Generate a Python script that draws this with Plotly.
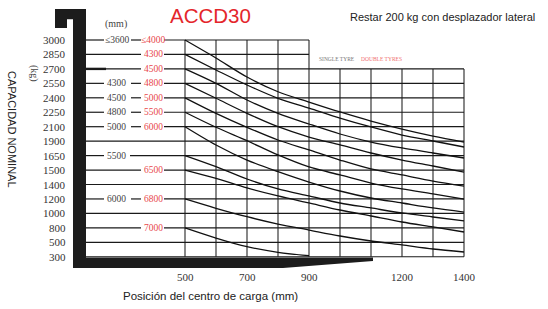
import plotly.graph_objects as go
import numpy as np

# ---------------- data ----------------
capacity_ticks = [3000, 2850, 2700, 2550, 2400, 2250, 2100, 1900, 1650, 1500, 1400, 1200, 1000, 800, 500, 300]
x_tick_labels = [500, 700, 900, 1200, 1400]
grid_x = [500, 600, 700, 800, 900, 1000, 1100, 1200, 1300, 1400]
load_center = [500, 600, 700, 800, 900, 1000, 1100, 1200, 1300, 1400]

# mast heights (mm): single tyre (black) / double tyres (red), by capacity row
single_rows = [3000, 2550, 2400, 2250, 2100, 1650, 1200]
single_text = ["≤3600", "4300", "4500", "4800", "5000", "5500", "6000"]
double_rows = [3000, 2850, 2700, 2550, 2400, 2250, 2100, 1500, 1200, 800]
double_text = ["≤4000", "4300", "4500", "4800", "5000", "5500", "6000", "6500", "6800", "7000"]

# capacity curves (kg) vs load centre
curve_3000 = [3000, 2813, 2616, 2463, 2356, 2253, 2159, 2068, 1971, 1885]
curve_2850 = [2850, 2689, 2533, 2395, 2294, 2190, 2096, 1985, 1902, 1799]
curve_2700 = [2700, 2550, 2377, 2239, 2128, 1999, 1885, 1782, 1695, 1625]
curve_2550 = [2550, 2395, 2239, 2100, 1957, 1834, 1695, 1604, 1542, 1486]
curve_2400 = [2400, 2239, 2092, 1916, 1747, 1604, 1511, 1466, 1424, 1379]
curve_2250 = [2250, 2092, 1906, 1661, 1532, 1466, 1410, 1338, 1269, 1199]
curve_2100 = [2100, 1834, 1604, 1489, 1417, 1310, 1213, 1144, 1075, 1019]
curve_1650 = [1650, 1535, 1438, 1338, 1241, 1144, 1075, 1006, 950, 895]
curve_1500 = [1500, 1442, 1352, 1241, 1144, 1047, 964, 881, 812, 714]
curve_1200 = [1200, 1071, 954, 853, 755, 631, 527, 463, 407, 366]
curve_800 = [800, 589, 439, 362, 315]
curves = [curve_3000, curve_2850, curve_2700, curve_2550, curve_2400, curve_2250,
          curve_2100, curve_1650, curve_1500, curve_1200, curve_800]

# ---------------- scales ----------------
W, H = 548, 309
XR = [-96.77, 1670.97]
YR = [-3.616, 17.768]
caps_asc = capacity_ticks[::-1]
idx_asc = list(range(len(caps_asc)))


def yv(kg):
    return np.interp(kg, caps_asc, idx_asc)


def X(px):
    return XR[0] + px / W * (XR[1] - XR[0])


def Y(py):
    return YR[1] - py / H * (YR[1] - YR[0])


fig = go.Figure()

# vertical grid
vx, vy = [], []
for g in grid_x:
    top = yv(3000) if g <= 900 else yv(2700)
    vx += [g, g, None]
    vy += [yv(300), top, None]
fig.add_trace(go.Scatter(x=vx, y=vy, mode="lines", line=dict(color="#6a6a6a", width=1.6),
                         hoverinfo="skip", showlegend=False))

# horizontal grid with label gaps
L0, BLK_A, BLK_B, RED_A, RED_B = X(86), X(104), X(131), X(141), X(164)
hx, hy = [], []
for c in capacity_ticks:
    v = yv(c)
    end = 900 if c in (3000, 2850) else 1400
    has_s, has_d = c in single_rows, c in double_rows
    if has_s and has_d:
        segs = [(L0, BLK_A), (BLK_B, RED_A), (RED_B, end)]
    elif has_d:
        segs = [(L0, RED_A), (RED_B, end)]
    elif has_s:
        segs = [(L0, BLK_A), (X(130), end)]
    else:
        segs = [(L0, end)]
    for a, b in segs:
        hx += [a, b, None]
        hy += [v, v, None]
fig.add_trace(go.Scatter(x=hx, y=hy, mode="lines", line=dict(color="#1a1a1a", width=1.2),
                         hoverinfo="skip", showlegend=False))
# thicker stub on 2700 row
fig.add_trace(go.Scatter(x=[L0, X(106)], y=[yv(2700)] * 2, mode="lines",
                         line=dict(color="#1a1a1a", width=2.4), hoverinfo="skip", showlegend=False))

# curves
for cv in curves:
    fig.add_trace(go.Scatter(x=load_center[:len(cv)], y=yv(cv), mode="lines",
                             line=dict(color="#111111", width=1.3, shape="spline", smoothing=0.9),
                             hoverinfo="skip", showlegend=False))

ann = []
serif = "Liberation Serif"
for c in capacity_ticks:
    ann.append(dict(x=X(68), y=yv(c), text=str(c), xanchor="right", yanchor="middle", showarrow=False,
                    font=dict(family=serif, size=11, color="#333333")))
for t in x_tick_labels:
    ann.append(dict(x=t, y=Y(277), text=str(t), xanchor="center", yanchor="middle", showarrow=False,
                    font=dict(family=serif, size=11, color="#333333")))
for r, t in zip(single_rows, single_text):
    ann.append(dict(x=X(116.5), y=yv(r), text=t, xanchor="center", yanchor="middle", showarrow=False,
                    font=dict(family=serif, size=9.5, color="#444444")))
for r, t in zip(double_rows, double_text):
    ann.append(dict(x=X(153), y=yv(r), text=t, xanchor="center", yanchor="middle", showarrow=False,
                    font=dict(family=serif, size=9.5, color="#e8484c")))

ann += [
    dict(x=X(210), y=Y(15), text="ACCD30", xanchor="center", yanchor="middle", showarrow=False,
         font=dict(family="Liberation Sans", size=20.5, color="#e4262b")),
    dict(x=X(348), y=Y(17), text="Restar 200 kg con desplazador lateral", xanchor="left", yanchor="middle",
         showarrow=False, font=dict(family="Liberation Sans", size=11, color="#222222")),
    dict(x=X(116), y=Y(24), text="(mm)", xanchor="center", yanchor="middle", showarrow=False,
         font=dict(family=serif, size=10, color="#444444")),
    dict(x=X(34), y=Y(73), text="(kg)", textangle=90, xanchor="center", yanchor="middle", showarrow=False,
         font=dict(family=serif, size=10, color="#444444")),
    dict(x=X(12), y=Y(129), text="CAPACIDAD NOMINAL", textangle=90, xanchor="center", yanchor="middle",
         showarrow=False, font=dict(family="Liberation Sans", size=11, color="#222222")),
    dict(x=X(210), y=Y(296), text="Posición del centro de carga (mm)", xanchor="center", yanchor="middle",
         showarrow=False, font=dict(family="Liberation Sans", size=11.5, color="#222222")),
    dict(x=X(337), y=Y(59), text="SINGLE TYRE", xanchor="center", yanchor="middle", showarrow=False,
         font=dict(family=serif, size=5.5, color="#777777")),
    dict(x=X(381), y=Y(59), text="DOUBLE TYRES", xanchor="center", yanchor="middle", showarrow=False,
         font=dict(family=serif, size=5.5, color="#f07070")),
]


def P(px, py):
    return f"{px / W:.5f},{1 - py / H:.5f}"


fork_path = ("M " + P(55, 9) + " L " + P(86, 9) + " L " + P(86, 257.5) + " L " + P(373, 257.5)
             + " L " + P(373, 261) + " L " + P(283, 268) + " L " + P(73, 268) + " L " + P(73, 19.3)
             + " L " + P(67, 19.3) + " L " + P(67, 28) + " L " + P(55, 28) + " Z")
shapes = [dict(type="path", xref="paper", yref="paper", path=fork_path,
               fillcolor="#1c1c1c", line=dict(width=0), layer="above")]

fig.update_layout(
    width=W, height=H, margin=dict(l=0, r=0, t=0, b=0),
    paper_bgcolor="white", plot_bgcolor="white",
    xaxis=dict(range=XR, visible=False, fixedrange=True),
    yaxis=dict(range=YR, visible=False, fixedrange=True),
    annotations=ann, shapes=shapes, showlegend=False,
)
fig.write_html("out.html", config={"displayModeBar": False},
               post_script="document.body.style.margin='0';document.body.style.overflow='hidden';")
